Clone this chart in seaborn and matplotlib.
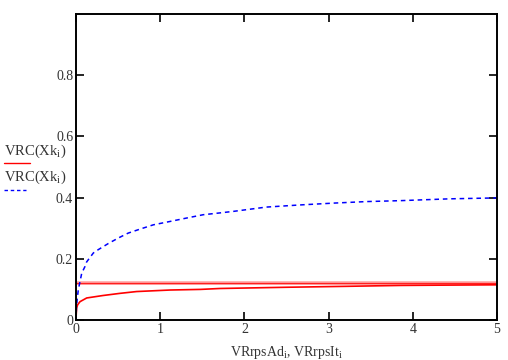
import numpy as np
import pandas as pd
import matplotlib
matplotlib.use("Agg")
import matplotlib.pyplot as plt
import seaborn as sns

# values
x_red = [0.0, 0.003, 0.008, 0.02, 0.048, 0.127, 0.32, 0.52, 0.72, 1.12, 1.48, 1.71, 2.5, 3.2, 3.86, 4.4, 5.0]
y_red = [0.0, 0.02, 0.04, 0.05, 0.06, 0.072, 0.080, 0.087, 0.093, 0.098, 0.100, 0.103, 0.107, 0.110, 0.113, 0.114, 0.115]

x_blue = [0.0, 0.005, 0.015, 0.028, 0.048, 0.068, 0.107, 0.127, 0.206, 0.265, 0.384, 0.503, 0.62, 0.76,
          0.918, 1.116, 1.31, 1.51, 1.71, 1.87, 2.26, 2.66, 3.06, 3.45, 3.85, 4.44, 5.0]
y_blue = [0.0, 0.04, 0.07, 0.10, 0.126, 0.153, 0.175, 0.19, 0.219, 0.230, 0.250, 0.268, 0.284, 0.297,
          0.311, 0.322, 0.333, 0.344, 0.350, 0.355, 0.369, 0.376, 0.382, 0.387, 0.390, 0.396, 0.399]

x_flat = [0.0, 5.0]
y_flat = [0.122, 0.122]

x_ticks = [0, 1, 2, 3, 4, 5]
y_ticks = [0, 0.2, 0.4, 0.6, 0.8]
y_tick_labels = ["0", "0.2", "0.4", "0.6", "0.8"]

sns.set_style("ticks")
plt.rcParams['font.family'] = ['Liberation Serif', 'DejaVu Serif']
plt.rcParams['mathtext.fontset'] = 'custom'
plt.rcParams['mathtext.rm'] = 'Liberation Serif'
plt.rcParams['mathtext.it'] = 'Liberation Serif'

red_df = pd.DataFrame({"x": x_red, "y": y_red})
blue_df = pd.DataFrame({"x": x_blue, "y": y_blue})
flat_df = pd.DataFrame({"x": x_flat, "y": y_flat})

fig = plt.figure(figsize=(5.08, 3.6), dpi=100)
ax = fig.add_axes([76 / 508, 40 / 360, 421 / 508, 306 / 360])

sns.lineplot(data=flat_df, x="x", y="y", ax=ax, color="#ff8080", linewidth=2.8, alpha=0.6)
sns.lineplot(data=flat_df, x="x", y="y", ax=ax, color="#ff2020", linewidth=1.0)
sns.lineplot(data=red_df, x="x", y="y", ax=ax, color="#ff0000", linewidth=1.2)
sns.lineplot(data=blue_df, x="x", y="y", ax=ax, color="#0000ff", linewidth=1.1,
             linestyle=(0, (3, 2.5)))

ax.set_xlim(0, 5)
ax.set_ylim(0, 1.0)
ax.set_xticks(x_ticks)
ax.set_yticks(y_ticks)
ax.set_yticklabels(y_tick_labels)
ax.tick_params(direction="in", length=6, width=1.2, top=True, right=True,
               labelsize=10, colors="black", labelcolor="#333333", pad=2)
for s in ax.spines.values():
    s.set_linewidth(1.4)
    s.set_color("black")

ax.set_xlabel(r"VRrpsAd$_\mathrm{i}$, VRrpsIt$_\mathrm{i}$", fontsize=10, color="#333333", labelpad=6)
ax.set_ylabel("")

# legend written at the left like the original
fig.text(4 / 508, 1 - 151 / 360, r"VRC(Xk$_\mathrm{i}$)", fontsize=10.5, color="#333333", va="center")
fig.lines.append(plt.Line2D([4 / 508, 30 / 508], [1 - 163 / 360, 1 - 163 / 360],
                            transform=fig.transFigure, color="#ff0000", linewidth=1.0))
fig.text(4 / 508, 1 - 177 / 360, r"VRC(Xk$_\mathrm{i}$)", fontsize=10.5, color="#333333", va="center")
fig.lines.append(plt.Line2D([4 / 508, 26 / 508], [1 - 190 / 360, 1 - 190 / 360],
                            transform=fig.transFigure, color="#0000ff", linewidth=1.0,
                            linestyle=(0, (2.5, 2))))

fig.savefig("out.png", dpi=100)
